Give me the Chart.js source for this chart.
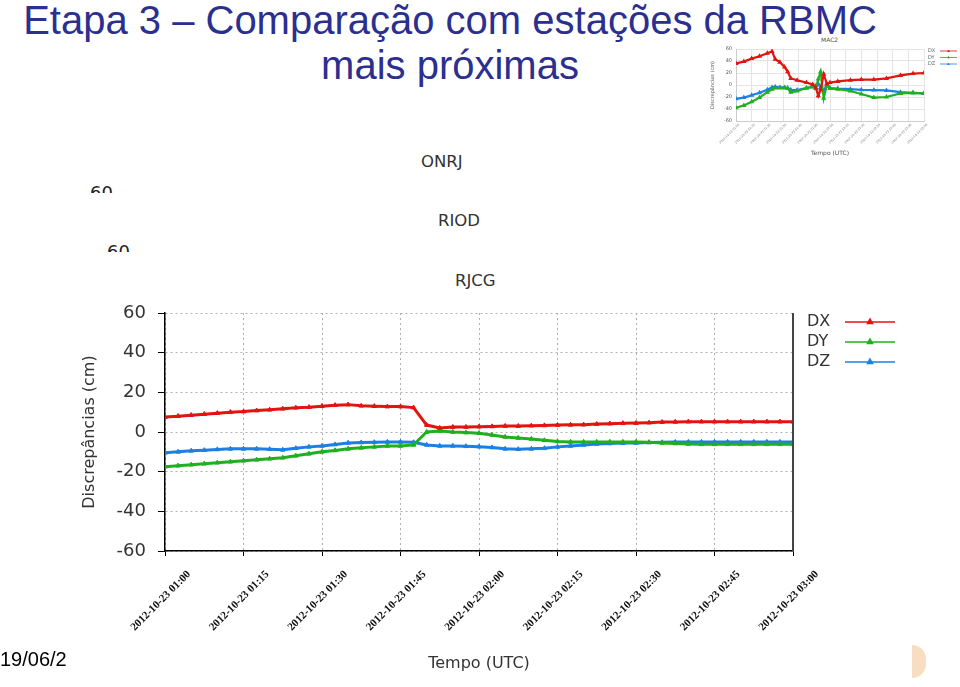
<!DOCTYPE html>
<html>
<head>
<meta charset="utf-8">
<script src="https://cdn.jsdelivr.net/npm/chart.js@4.4.1/dist/chart.umd.min.js"></script>
<style>
  html, body { margin: 0; padding: 0; background: #fff; }
  body { width: 960px; height: 687px; position: relative; overflow: hidden; font-family: "Liberation Sans", Arial, sans-serif; }
  .abs { position: absolute; white-space: nowrap; }
  #title { left: 0; top: -2px; width: 900px; text-align: center; font-size: 40px; line-height: 45px; color: #2b2f8f; }
  .stn { font-family: "DejaVu Sans", sans-serif; font-size: 16.5px; line-height: 17px; color: #333; }
  .cut { overflow: hidden; font-family: "DejaVu Sans", sans-serif; font-size: 18px; line-height: 18px; color: #222; }
  .small { font-family: "DejaVu Sans", sans-serif; font-size: 6px; line-height: 6px; color: #555; }
  #footer { left: 0; top: 649px; font-size: 20px; line-height: 20px; color: #000; }
  #logo { left: 912px; top: 645px; width: 14px; height: 33px; border-radius: 0 16px 16px 0; background: #f6cfa5; opacity: 0.7; }
  canvas { position: absolute; }
</style>
</head>
<body>

<div id="title" class="abs">Etapa 3 – Comparação com estações da RBMC<br>mais próximas</div>

<!-- stacked station plots behind the RJCG one: only titles and a clipped tick survive -->
<div class="abs stn" style="left:421px; top:153px;">ONRJ</div>
<div class="abs cut" style="left:90px; top:184px; height:9px;">60</div>
<div class="abs stn" style="left:438px; top:212px;">RIOD</div>
<div class="abs cut" style="left:107px; top:243px; height:9px;">60</div>
<div class="abs stn" style="left:455px; top:272px;">RJCG</div>

<div class="abs small" style="left:821px; top:37px;">MAC2</div>

<canvas id="mainChart" width="960" height="397" style="left:0; top:290px;"></canvas>
<canvas id="macChart" width="260" height="130" style="left:700px; top:30px;"></canvas>

<div id="footer" class="abs">19/06/2</div>
<div id="logo" class="abs"></div>

<script>
// ---- RJCG (main plot) ----
const mainTickLabels = [
  '2012-10-23 01:00', '2012-10-23 01:15', '2012-10-23 01:30', '2012-10-23 01:45', '2012-10-23 02:00',
  '2012-10-23 02:15', '2012-10-23 02:30', '2012-10-23 02:45', '2012-10-23 03:00'
];
// minutes after 01:00
const mainMinutes = [
  0, 2.5, 5, 7.5, 10, 12.5, 15, 17.5, 20, 22.5,
  25, 27.5, 30, 32.5, 35, 37.5, 40, 42.5, 45, 47.5,
  50, 52.5, 55, 57.5, 60, 62.5, 65, 67.5, 70, 72.5,
  75, 77.5, 80, 82.5, 85, 87.5, 90, 92.5, 95, 97.5,
  100, 102.5, 105, 107.5, 110, 112.5, 115, 117.5, 120
];
const rjcgDX = [
  7.5, 8, 8.5, 9, 9.5, 10, 10.3, 10.8, 11.2, 11.7,
  12.2, 12.5, 13, 13.5, 13.8, 13.2, 13, 12.8, 12.8, 12.3,
  3.5, 2, 2.5, 2.5, 2.7, 2.8, 3, 3, 3.2, 3.3,
  3.5, 3.6, 3.7, 4, 4.2, 4.4, 4.5, 4.7, 5, 5.1,
  5.2, 5.2, 5.2, 5.2, 5.2, 5.2, 5.2, 5.2, 5.2
];
const rjcgDY = [
  -17.5, -17, -16.5, -16, -15.5, -15, -14.5, -14, -13.5, -13,
  -12, -11, -10, -9.3, -8.5, -8, -7.5, -7, -7, -6.5,
  0, 0.5, 0, -0.3, -0.6, -1.5, -2.5, -3, -3.5, -4.2,
  -4.8, -5, -5, -5, -5, -5, -5, -5.2, -5.5, -5.8,
  -6, -6.2, -6.2, -6.2, -6.2, -6.2, -6.2, -6.2, -6.2
];
const rjcgDZ = [
  -10.5, -10, -9.5, -9.2, -8.8, -8.5, -8.5, -8.5, -8.7, -9,
  -8.2, -7.5, -7, -6.3, -5.5, -5.3, -5.2, -5, -5, -5.2,
  -6.5, -7, -7, -7.2, -7.4, -7.8, -8.5, -8.7, -8.5, -8.2,
  -7.5, -7, -6.5, -6, -5.8, -5.6, -5.5, -5.3, -5.2, -5.1,
  -5, -5, -5, -5, -5, -5, -5, -5, -5
];

// ---- MAC2 (small inset) ----
const macTickLabels = [
  '2012-10-23 01:00', '2012-10-23 01:10', '2012-10-23 01:20', '2012-10-23 01:30', '2012-10-23 01:40',
  '2012-10-23 01:50', '2012-10-23 02:00', '2012-10-23 02:10', '2012-10-23 02:20', '2012-10-23 02:30',
  '2012-10-23 02:40', '2012-10-23 02:50', '2012-10-23 03:00'
];
const macMinutes = [0, 5, 10, 15, 20, 23, 25, 28, 31, 33, 35, 39, 45, 49, 51, 52.5, 54, 56, 58, 60, 65, 73, 80, 88, 96, 105, 113, 120];
const macDX = [36, 39, 44, 48, 53, 56, 43, 38, 30, 22, 11, 8, 4, 1, -5, -18, -8, 18, 2, 4, 6, 8, 9, 9, 11, 16, 19, 20];
const macDY = [-38, -34, -28, -21, -12, -7, -5, -5, -5, -6, -12, -10, -5, -3, -6, 10, 22, -22, 0, -6, -7, -10, -15, -21, -20, -14, -13, -14];
const macDZ = [-23, -21, -17, -13, -8, -4, -3, -4, -4, -5, -8, -8.5, -5, -3, -1, 2, -4, -10, 1, -5, -6, -7, -8, -8.5, -9, -12, -13, -14];

const seriesNames = ['DX', 'DY', 'DZ'];
const seriesColors = ['#e3140f', '#1fb01f', '#1a80e6'];

const toPoints = (xs, ys) => xs.map((x, i) => ({ x, y: ys[i] }));

// legend drawn on the right: label text, then a line with a triangle marker
const sideLegend = {
  id: 'sideLegend',
  afterDraw(chart, args, opts) {
    const ctx = chart.ctx;
    ctx.save();
    ctx.font = opts.font;
    ctx.textBaseline = 'middle';
    chart.data.datasets.forEach((ds, i) => {
      const y = opts.y + i * opts.gap;
      ctx.fillStyle = opts.textColor;
      ctx.fillText(ds.label, opts.x, y);
      ctx.strokeStyle = ds.borderColor;
      ctx.fillStyle = ds.borderColor;
      ctx.lineWidth = opts.lineWidth;
      ctx.beginPath();
      ctx.moveTo(opts.lineX, y);
      ctx.lineTo(opts.lineX + opts.lineLen, y);
      ctx.stroke();
      Chart.helpers.drawPoint(ctx, { pointStyle: 'triangle', radius: opts.marker, rotation: 0, borderWidth: 1 },
        opts.lineX + opts.lineLen / 2, y);
    });
    ctx.restore();
  }
};

// dark right edge of the RJCG plot frame
const rightFrame = {
  id: 'rightFrame',
  afterDraw(chart, args, opts) {
    if (!opts.color) return;
    const { ctx, chartArea } = chart;
    ctx.save();
    ctx.strokeStyle = opts.color;
    ctx.lineWidth = opts.width;
    ctx.beginPath();
    ctx.moveTo(chartArea.right, chartArea.top);
    ctx.lineTo(chartArea.right, chartArea.bottom);
    ctx.stroke();
    ctx.restore();
  }
};

new Chart(document.getElementById('mainChart'), {
  type: 'line',
  data: {
    datasets: [rjcgDX, rjcgDY, rjcgDZ].map((vals, i) => ({
      label: seriesNames[i],
      data: toPoints(mainMinutes, vals),
      borderColor: seriesColors[i],
      backgroundColor: seriesColors[i],
      borderWidth: 3,
      pointStyle: 'triangle',
      pointRadius: 2.6,
      pointBorderWidth: 1,
      tension: 0,
    })),
  },
  options: {
    responsive: false,
    animation: false,
    layout: { padding: { left: 80, right: 167, top: 23, bottom: 10 } },
    plugins: {
      legend: { display: false },
      tooltip: { enabled: false },
      sideLegend: { x: 807, y: 32, gap: 20, lineX: 845, lineLen: 50, lineWidth: 1.5, marker: 3,
        font: '16px "DejaVu Sans"', textColor: '#333' },
      rightFrame: { color: '#444', width: 2 },
    },
    scales: {
      x: {
        type: 'linear', min: 0, max: 120,
        afterFit: (s) => { s.height = 126; },
        ticks: {
          stepSize: 15, autoSkip: false, minRotation: 45, maxRotation: 45,
          labelOffset: 24, padding: 12,
          font: { family: '"Liberation Serif"', size: 11, weight: 'bold' }, color: '#111',
          callback: (v) => mainTickLabels[v / 15],
        },
        grid: { color: (c) => c.tick && c.tick.value === 120 ? 'rgba(0,0,0,0)' : '#b0b0b0', tickColor: '#000', tickLength: 5 },
        border: { color: '#000', width: 1.5, dash: [2, 3] },
        title: { display: true, text: 'Tempo (UTC)', font: { family: '"DejaVu Sans"', size: 16 }, color: '#333', padding: 4 },
      },
      y: {
        min: -60, max: 60,
        afterFit: (s) => { s.width = 85; },
        ticks: { stepSize: 20, padding: 12, font: { family: '"DejaVu Sans"', size: 18 }, color: '#333' },
        grid: { color: '#b0b0b0', tickColor: '#000', tickLength: 7 },
        border: { color: '#000', width: 1.5, dash: [2, 3] },
        title: { display: true, text: 'Discrepâncias (cm)', font: { family: '"DejaVu Sans"', size: 16 }, color: '#333', padding: 0 },
      },
    },
  },
  plugins: [sideLegend, rightFrame],
});

new Chart(document.getElementById('macChart'), {
  type: 'line',
  data: {
    datasets: [macDX, macDY, macDZ].map((vals, i) => ({
      label: seriesNames[i],
      data: toPoints(macMinutes, vals),
      borderColor: seriesColors[i],
      backgroundColor: seriesColors[i],
      borderWidth: 2.2,
      pointStyle: 'triangle',
      pointRadius: 0.8,
      tension: 0,
    })),
  },
  options: {
    responsive: false,
    animation: false,
    layout: { padding: { left: 10, right: 36, top: 19, bottom: 3 } },
    plugins: {
      legend: { display: false },
      tooltip: { enabled: false },
      sideLegend: { x: 228, y: 21, gap: 6.5, lineX: 240, lineLen: 17, lineWidth: 0.8, marker: 1,
        font: '5px "DejaVu Sans"', textColor: '#666' },
      rightFrame: { color: null },
    },
    scales: {
      x: {
        type: 'linear', min: 0, max: 120,
        afterFit: (s) => { s.height = 36; },
        ticks: {
          stepSize: 10, autoSkip: false, minRotation: 45, maxRotation: 45,
          labelOffset: 3, padding: 2,
          font: { family: '"DejaVu Sans"', size: 3 }, color: '#666',
          callback: (v) => macTickLabels[v / 10],
        },
        grid: { color: '#e4e4e4', drawTicks: false },
        border: { color: '#ccc' },
        title: { display: true, text: 'Tempo (UTC)', font: { family: '"DejaVu Sans"', size: 6 }, color: '#555', padding: 0 },
      },
      y: {
        min: -60, max: 60,
        afterFit: (s) => { s.width = 26; },
        ticks: { stepSize: 20, padding: 4, font: { family: '"DejaVu Sans"', size: 5 }, color: '#555' },
        grid: { color: '#e4e4e4', drawTicks: false },
        border: { color: '#ccc' },
        title: { display: true, text: 'Discrepâncias (cm)', font: { family: '"DejaVu Sans"', size: 5 }, color: '#555', padding: 0 },
      },
    },
  },
  plugins: [sideLegend, rightFrame],
});
</script>
</body>
</html>
